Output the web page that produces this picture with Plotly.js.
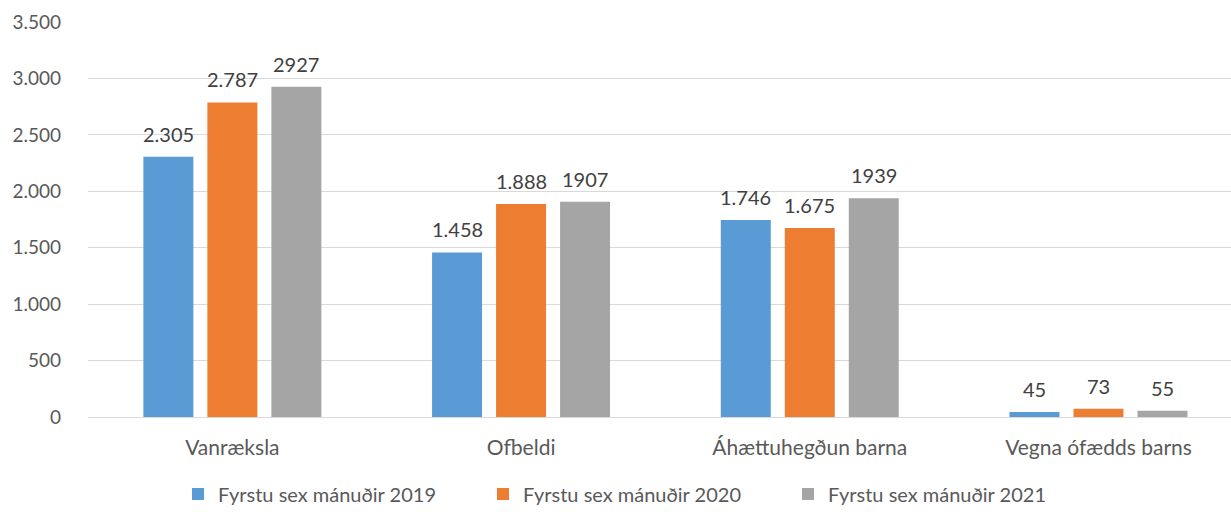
<!DOCTYPE html>
<html>
<head>
<meta charset="utf-8">
<script src="https://cdn.plot.ly/plotly-3.0.1.min.js"></script>
<style>html,body{margin:0;padding:0;background:#fff;}#chart{width:1231px;height:512px;}</style>
</head>
<body>
<div id="chart"></div>
<script>
const categories = ["Vanræksla", "Ofbeldi", "Áhættuhegðun barna", "Vegna ófædds barns"];
const seriesNames = ["Fyrstu sex mánuðir 2019", "Fyrstu sex mánuðir 2020", "Fyrstu sex mánuðir 2021"];
const values2019 = [2305, 1458, 1746, 45];
const values2020 = [2787, 1888, 1675, 73];
const values2021 = [2927, 1907, 1939, 55];
const labels2019 = ["2.305", "1.458", "1.746", "45"];
const labels2020 = ["2.787", "1.888", "1.675", "73"];
const labels2021 = ["2927", "1907", "1939", "55"];
const yTickVals = [0, 500, 1000, 1500, 2000, 2500, 3000, 3500];
const yTickText = ["0", "500", "1.000", "1.500", "2.000", "2.500", "3.000", "3.500"];
const colors = ["#5B9BD5", "#ED7D31", "#A5A5A5"];

const fontFam = "Lato, Open Sans, sans-serif";
const allValues = [values2019, values2020, values2021];
const allLabels = [labels2019, labels2020, labels2021];
const bargap = 0.335;
const slot = (1 - bargap) / 3;

const traces = allValues.map((v, i) => ({
  type: "bar",
  name: seriesNames[i],
  x: categories.map((c, k) => k),
  y: v,
  marker: {color: colors[i]},
  hoverinfo: "none"
}));

const annotations = [];
allValues.forEach((v, i) => {
  v.forEach((val, k) => {
    annotations.push({
      x: k + (i - 1) * slot,
      y: val,
      xref: "x", yref: "y",
      text: allLabels[i][k],
      showarrow: false,
      yanchor: "middle",
      yshift: 23,
      font: {family: fontFam, size: 20, color: "#404040"}
    });
  });
});

const layout = {
  width: 1231,
  height: 512,
  margin: {l: 88, r: 0, t: 22, b: 95},
  paper_bgcolor: "#fff",
  plot_bgcolor: "#fff",
  barmode: "group",
  bargap: bargap,
  bargroupgap: 0.219,
  showlegend: true,
  annotations: annotations,
  legend: {
    orientation: "h",
    xref: "container", yref: "container",
    x: 178 / 1231, xanchor: "left",
    y: 18 / 512, yanchor: "middle",
    font: {family: fontFam, size: 20, color: "#595959"},
    entrywidth: 260,
    entrywidthmode: "pixels",
    traceorder: "normal"
  },
  xaxis: {
    range: [-0.5, 3.459],
    tickvals: [0, 1, 2, 3],
    ticktext: categories,
    showgrid: false,
    showline: false,
    ticks: "",
    ticklabelstandoff: 16,
    tickfont: {family: fontFam, size: 21, color: "#595959"},
    fixedrange: true
  },
  yaxis: {
    range: [0, 3500],
    tickvals: yTickVals,
    ticktext: yTickText,
    showgrid: true,
    gridcolor: "#D9D9D9",
    gridwidth: 1,
    zeroline: true,
    zerolinecolor: "#D9D9D9",
    zerolinewidth: 1,
    showline: false,
    ticks: "",
    ticklabelstandoff: 26,
    tickfont: {family: fontFam, size: 19, color: "#595959"},
    fixedrange: true
  },
  font: {family: fontFam}
};

Plotly.newPlot("chart", traces, layout, {displayModeBar: false, staticPlot: true});
</script>
</body>
</html>
